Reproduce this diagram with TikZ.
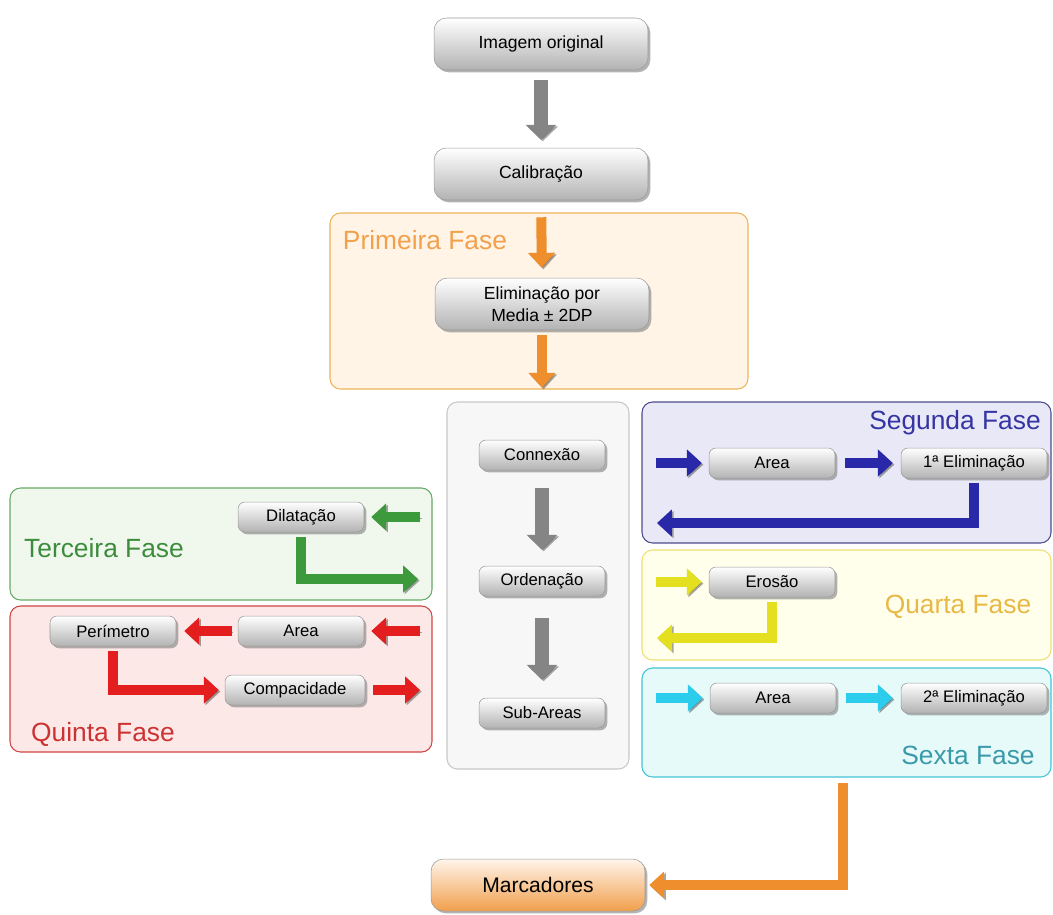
\documentclass[tikz,border=0pt]{standalone}
\usepackage{fontspec}
\setmainfont{Liberation Sans}
\usepackage{xcolor}
\usetikzlibrary{arrows.meta,shadows}

\definecolor{orgarr}{HTML}{EE8E2C}
\definecolor{orgtxt}{HTML}{F2A04C}
\definecolor{orgfill}{HTML}{FFF4E6}
\definecolor{orgline}{HTML}{EDB45A}
\definecolor{bluarr}{HTML}{2828A8}
\definecolor{blutxt}{HTML}{3434A4}
\definecolor{blufill}{HTML}{E8E8F6}
\definecolor{bluline}{HTML}{4C4C8C}
\definecolor{yelarr}{HTML}{E4E020}
\definecolor{yeltxt}{HTML}{E8B844}
\definecolor{yelfill}{HTML}{FFFFEC}
\definecolor{yelline}{HTML}{EEE070}
\definecolor{cyaarr}{HTML}{2CCCEC}
\definecolor{cyatxt}{HTML}{3A9AAA}
\definecolor{cyafill}{HTML}{E6FAFA}
\definecolor{cyaline}{HTML}{44C4D4}
\definecolor{grnarr}{HTML}{3C9A3C}
\definecolor{grntxt}{HTML}{3C8C3C}
\definecolor{grnfill}{HTML}{F0F8EE}
\definecolor{grnline}{HTML}{66AA66}
\definecolor{redarr}{HTML}{E41E1E}
\definecolor{redtxt}{HTML}{CC3232}
\definecolor{redfill}{HTML}{FDE8E8}
\definecolor{redline}{HTML}{D04444}
\definecolor{midfill}{HTML}{F7F7F7}
\definecolor{midline}{HTML}{C8C8C8}

\begin{document}
\begin{tikzpicture}[
  x=0.02cm, y=-0.02cm,
  btn/.style={rectangle, draw=black!40, line width=0.3pt, rounded corners=4pt,
    top color=white, bottom color=black!30, minimum width=2.52cm, minimum height=0.6cm,
    align=center, inner sep=1pt, font=\fontsize{9.5}{11}\selectfont,
    drop shadow={shadow xshift=1.3pt, shadow yshift=-1.3pt, opacity=0.6}},
  bigbtn/.style={btn, rounded corners=7pt, minimum width=4.28cm, minimum height=1.04cm,
    font=\fontsize{10}{12.5}\selectfont},
  panel/.style={rounded corners=6pt, line width=0.6pt},
  phase/.style={font=\fontsize{15}{18}\selectfont},
  barr/.style={-{Triangle[width=15pt,length=8.5pt]}, line width=5.7pt, draw=#1,
    preaction={draw=black, opacity=0.35, transform canvas={shift={(0.9pt,-0.9pt)}}}},
  garr/.style={-{Triangle[width=17pt,length=8.5pt]}, line width=7.5pt, draw=black!48,
    preaction={draw=black, opacity=0.35, transform canvas={shift={(0.9pt,-0.9pt)}}}}
]
\useasboundingbox (0,0) rectangle (1053,914);

% Panels
\draw[panel, draw=orgline, fill=orgfill] (330,213) rectangle (748,389);
\draw[panel, draw=midline, fill=midfill] (447,402) rectangle (629,769);
\draw[panel, draw=bluline, fill=blufill] (642,402) rectangle (1051,543);
\draw[panel, draw=yelline, fill=yelfill] (642,550) rectangle (1051,660);
\draw[panel, draw=cyaline, fill=cyafill] (642,668) rectangle (1051,777);
\draw[panel, draw=grnline, fill=grnfill] (10,488) rectangle (432,600);
\draw[panel, draw=redline, fill=redfill] (10,606) rectangle (432,752);

% Phase titles
\node[phase, text=orgtxt] (t1) at (425,240) {Primeira Fase};
\node[phase, text=blutxt] (t2) at (955,423) {Segunda Fase};
\node[phase, text=grntxt] (t3) at (104,548) {Terceira Fase};
\node[phase, text=yeltxt] (t4) at (958,607) {Quarta Fase};
\node[phase, text=redtxt] (t5) at (103,734) {Quinta Fase};
\node[phase, text=cyatxt] (t6) at (968,755) {Sexta Fase};

% Main column
\node[bigbtn] (orig) at (541,44) {Imagem original};
\node[bigbtn] (calib) at (541,174) {Calibração};
\node[bigbtn] (elim) at (542,304) {Eliminação por\\Media ± 2DP};
\node[btn] (conn) at (542,455) {Connexão};
\node[btn] (ord) at (542,581) {Ordenação};
\node[btn] (sub) at (542,713) {Sub-Areas};
\node[bigbtn, top color=orange!8, bottom color=orgarr!85, font=\fontsize{12}{14}\selectfont] (marc) at (538,885) {Marcadores};

% Segunda Fase
\node[btn] (area2) at (772,463) {Area};
\node[btn, minimum width=2.92cm] (elim1) at (974,463) {1ª Eliminação};
\coordinate (s2in) at (656,463);
\coordinate (s2out) at (657,523);

% Quarta Fase
\node[btn] (eros) at (772,582) {Erosão};
\coordinate (s4in) at (656,582);
\coordinate (s4out) at (657,638);

% Sexta Fase
\node[btn] (area6) at (773,698) {Area};
\node[btn, minimum width=2.92cm] (elim2) at (974,698) {2ª Eliminação};
\coordinate (s6in) at (656,698);
\coordinate (s6out) at (843,783);

% Terceira Fase
\node[btn] (dil) at (301,517) {Dilatação};
\coordinate (s3in) at (420,517);
\coordinate (s3out) at (418,579);

% Quinta Fase
\node[btn] (perim) at (113,631) {Perímetro};
\node[btn] (area5) at (301,631) {Area};
\node[btn, minimum width=2.8cm] (compac) at (295,690) {Compacidade};
\coordinate (s5in) at (420,631);
\coordinate (s5out) at (420,690);

% Arrows
\draw[garr, shorten <=0.2cm, shorten >=0.16cm] (orig) -- (calib);
\draw[barr=orgarr, shorten <=0.34cm, shorten >=0.2cm] (calib) -- (elim);
\draw[barr=orgarr, shorten <=0.1cm, shorten >=1.04cm] (elim) -- (conn);
\draw[garr, shorten <=0.36cm, shorten >=0.32cm] (conn) -- (ord);
\draw[garr, shorten <=0.44cm, shorten >=0.36cm] (ord) -- (sub);

\draw[barr=bluarr, shorten >=0.14cm] (s2in) -- (area2);
\draw[barr=bluarr, shorten <=0.2cm, shorten >=0.16cm] (area2) -- (elim1);
\draw[barr=bluarr, shorten <=0.1cm] (elim1) |- (s2out);

\draw[barr=yelarr, shorten >=0.14cm] (s4in) -- (eros);
\draw[barr=yelarr, shorten <=0.1cm] (eros) |- (s4out);

\draw[barr=cyaarr, shorten >=0.14cm] (s6in) -- (area6);
\draw[barr=cyaarr, shorten <=0.2cm, shorten >=0.16cm] (area6) -- (elim2);
\draw[barr=orgarr, shorten >=0.08cm] (s6out) |- (marc);

\draw[barr=grnarr, shorten >=0.14cm] (s3in) -- (dil);
\draw[barr=grnarr, shorten <=0.1cm] (dil) |- (s3out);

\draw[barr=redarr, shorten >=0.14cm] (s5in) -- (area5);
\draw[barr=redarr, shorten <=0.12cm, shorten >=0.16cm] (area5) -- (perim);
\draw[barr=redarr, shorten <=0.1cm, shorten >=0.12cm] (perim) |- (compac);
\draw[barr=redarr, shorten <=0.16cm] (compac) -- (s5out);

\end{tikzpicture}
\end{document}
